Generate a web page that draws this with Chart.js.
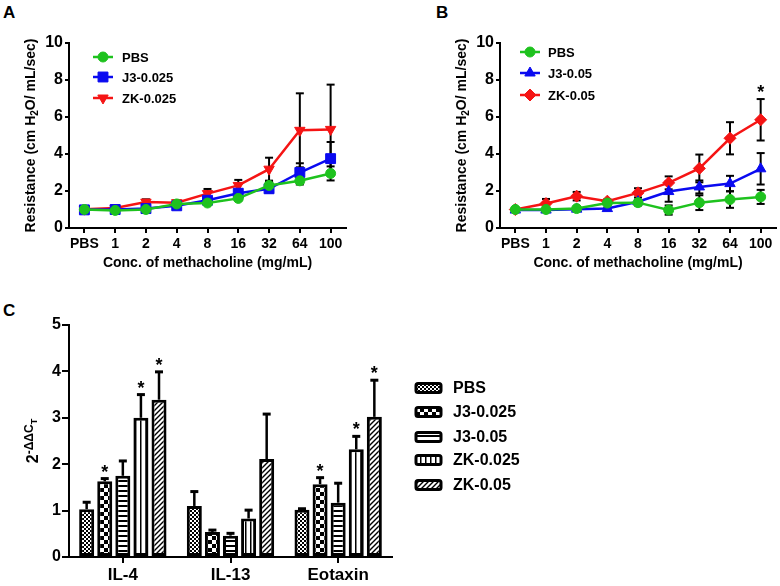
<!DOCTYPE html>
<html><head><meta charset="utf-8">
<script src="https://cdn.jsdelivr.net/npm/chart.js@4.4.1/dist/chart.umd.min.js"></script>
<style>
html,body{margin:0;padding:0;background:#fff;}
body{width:780px;height:586px;overflow:hidden;position:relative;}
canvas{position:absolute;}
.pl{position:absolute;font:bold 17px "Liberation Sans",Arial,sans-serif;line-height:17px;color:#000;}
</style></head><body>
<div class="pl" style="left:3px;top:4px">A</div>
<div class="pl" style="left:436px;top:4px">B</div>
<div class="pl" style="left:3px;top:302px">C</div>
<canvas id="cA" width="390" height="300" style="left:0;top:0"></canvas>
<canvas id="cB" width="410" height="300" style="left:390px;top:0"></canvas>
<canvas id="cC" width="780" height="286" style="left:0;top:300px"></canvas>
<script>
// ---------------- DATA ----------------
const doses = ['PBS','1','2','4','8','16','32','64','100'];

// Panel A (mean, SEM)
const aPBS     = [1.00, 0.95, 1.00, 1.30, 1.35, 1.60, 2.30, 2.55, 2.95];
const aPBSerr  = [0.05, 0.05, 0.05, 0.08, 0.10, 0.10, 0.20, 0.20, 0.38];
const aJ3      = [0.98, 1.00, 1.05, 1.20, 1.50, 1.88, 2.12, 3.00, 3.75];
const aJ3err   = [0.05, 0.05, 0.08, 0.10, 0.15, 0.20, 0.20, 0.50, 0.90];
const aZK      = [1.02, 1.08, 1.40, 1.37, 1.86, 2.30, 3.18, 5.28, 5.33];
const aZKerr   = [0.05, 0.06, 0.15, 0.12, 0.25, 0.30, 0.62, 2.00, 2.42];

// Panel B (mean, SEM)
const bPBS     = [1.00, 1.00, 1.05, 1.35, 1.37, 0.97, 1.37, 1.54, 1.68];
const bPBSerr  = [0.05, 0.05, 0.05, 0.08, 0.15, 0.25, 0.40, 0.45, 0.38];
const bJ3      = [0.97, 0.97, 1.02, 1.05, 1.42, 1.97, 2.22, 2.40, 3.20];
const bJ3err   = [0.05, 0.05, 0.05, 0.05, 0.10, 0.55, 0.35, 0.42, 0.85];
const bZK      = [1.00, 1.32, 1.72, 1.45, 1.90, 2.44, 3.22, 4.85, 5.85];
const bZKerr   = [0.05, 0.25, 0.23, 0.10, 0.25, 0.35, 0.75, 0.87, 1.12];
const bZKstars = [0, 0, 0, 0, 0, 0, 0, 0, 1];

// Panel C (mean, SEM)
const genes     = ['IL-4', 'IL-13', 'Eotaxin'];
const cPBS      = [1.03, 1.10, 1.02];
const cPBSerr   = [0.15, 0.31, 0.02];
const cJ3lo     = [1.63, 0.54, 1.57];
const cJ3loErr  = [0.06, 0.04, 0.14];
const cJ3hi     = [1.75, 0.46, 1.17];
const cJ3hiErr  = [0.32, 0.05, 0.42];
const cZKlo     = [3.00, 0.83, 2.32];
const cZKloErr  = [0.50, 0.18, 0.28];
const cZKhi     = [3.39, 2.11, 3.02];
const cZKhiErr  = [0.60, 0.97, 0.79];
const cJ3loStars = [1, 0, 1];
const cZKloStars = [1, 0, 1];
const cZKhiStars = [1, 0, 1];

// ---------------- STYLE ----------------
const FONT = '"Liberation Sans", Arial, Helvetica, sans-serif';
const GREEN = '#1ec21e', BLUE = '#0a0af0', RED = '#f51414';
Chart.defaults.font.family = FONT;
Chart.defaults.font.weight = 'bold';
Chart.defaults.color = '#000';
Chart.defaults.animation = false;

function drawMarker(ctx, style, r, rot, x, y) {
  if (Chart.helpers && Chart.helpers.drawPoint) {
    Chart.helpers.drawPoint(ctx, {pointStyle: style, radius: r, rotation: rot, borderWidth: 1}, x, y);
  } else {
    ctx.beginPath(); ctx.arc(x, y, r, 0, Math.PI * 2); ctx.fill(); ctx.stroke();
  }
}

// error bars + stars
function makeErrorPlugin(o) {
  function drawErr(chart) {
    const ctx = chart.ctx, ys = chart.scales.y;
    ctx.save();
    ctx.strokeStyle = '#000';
    ctx.lineWidth = o.lw;
    ctx.lineCap = 'butt';
    chart.data.datasets.forEach((ds, i) => {
      const errs = o.errors[i]; if (!errs) return;
      const meta = chart.getDatasetMeta(i);
      meta.data.forEach((el, j) => {
        const v = ds.data[j], e = errs[j];
        const x = el.x;
        const top = ys.getPixelForValue(v + e);
        const bot = o.both ? ys.getPixelForValue(v - e) : ys.getPixelForValue(v);
        ctx.beginPath(); ctx.moveTo(x, bot); ctx.lineTo(x, top); ctx.stroke();
        ctx.lineWidth = o.capLw;
        ctx.beginPath(); ctx.moveTo(x - o.cap, top); ctx.lineTo(x + o.cap, top); ctx.stroke();
        if (o.both) { ctx.beginPath(); ctx.moveTo(x - o.cap, bot); ctx.lineTo(x + o.cap, bot); ctx.stroke(); }
        ctx.lineWidth = o.lw;
      });
    });
    ctx.restore();
  }
  function drawStars(chart) {
    const ctx = chart.ctx, ys = chart.scales.y;
    ctx.save();
    ctx.fillStyle = '#000';
    ctx.font = 'bold 18px ' + FONT;
    ctx.textAlign = 'center'; ctx.textBaseline = 'alphabetic';
    chart.data.datasets.forEach((ds, i) => {
      const st = o.stars[i]; if (!st) return;
      const meta = chart.getDatasetMeta(i);
      meta.data.forEach((el, j) => {
        if (!st[j]) return;
        const top = ys.getPixelForValue(ds.data[j] + o.errors[i][j]);
        ctx.fillText('*', el.x, top - 1);
      });
    });
    ctx.restore();
  }
  return {
    id: 'errBars',
    beforeDatasetsDraw(chart) { if (o.behind) drawErr(chart); },
    afterDatasetsDraw(chart) { if (!o.behind) drawErr(chart); drawStars(chart); }
  };
}

// rotated y title with sub/superscripts
function makeRichTitle(segments, dist) {
  return {
    id: 'richTitle',
    afterDraw(chart) {
      const ctx = chart.ctx, ca = chart.chartArea;
      ctx.save();
      ctx.fillStyle = '#000';
      const widths = segments.map(s => { ctx.font = 'bold ' + s.size + 'px ' + FONT; return ctx.measureText(s.t).width; });
      const total = widths.reduce((a, b) => a + b, 0);
      ctx.translate(ca.left - dist, (ca.top + ca.bottom) / 2);
      ctx.rotate(-Math.PI / 2);
      ctx.textAlign = 'left'; ctx.textBaseline = 'alphabetic';
      let cx = -total / 2;
      segments.forEach((s, k) => { ctx.font = 'bold ' + s.size + 'px ' + FONT; ctx.fillText(s.t, cx, s.dy); cx += widths[k]; });
      ctx.restore();
    }
  };
}

// legend for line charts (line + marker inside plot area)
function makeLineLegend(cfg) {
  return {
    id: 'lineLegend',
    afterDraw(chart) {
      const ctx = chart.ctx, ca = chart.chartArea;
      ctx.save();
      chart.data.datasets.forEach((ds, i) => {
        const y = ca.top + cfg.rows[i];
        const x0 = ca.left + cfg.x0, x1 = ca.left + cfg.x1;
        ctx.strokeStyle = ds.borderColor; ctx.fillStyle = ds.borderColor; ctx.lineWidth = 2.5;
        ctx.beginPath(); ctx.moveTo(x0, y); ctx.lineTo(x1, y); ctx.stroke();
        ctx.lineWidth = 1;
        drawMarker(ctx, ds.pointStyle, ds.pointRadius, ds.pointRotation || 0, (x0 + x1) / 2, y);
        ctx.fillStyle = '#000';
        ctx.font = 'bold 13px ' + FONT;
        ctx.textAlign = 'left'; ctx.textBaseline = 'middle';
        ctx.fillText(ds.label, ca.left + cfg.tx, y + 1);
      });
      ctx.restore();
    }
  };
}

function lineDataset(label, data, color, style, r, rot) {
  return {
    label, data, borderColor: color, backgroundColor: color,
    pointBackgroundColor: color, pointBorderColor: color, pointBorderWidth: 1,
    pointStyle: style, pointRadius: r, pointRotation: rot || 0,
    borderWidth: 2.5, tension: 0, clip: false
  };
}

function lineChart(id, datasets, errs, stars, area, legendCfg) {
  return new Chart(document.getElementById(id), {
    type: 'line',
    data: { labels: doses, datasets },
    options: {
      responsive: false, animation: false, events: [],
      layout: { padding: { left: 0, top: area.top, right: area.padRight, bottom: 0 } },
      plugins: { legend: { display: false }, tooltip: { enabled: false } },
      scales: {
        x: {
          type: 'category', offset: true,
          grid: { display: true, drawOnChartArea: false, drawTicks: true, tickLength: 5, color: '#000', lineWidth: 2, offset: false },
          border: { display: true, color: '#000', width: 2 },
          ticks: { font: { size: 14, weight: 'bold' }, padding: 3, maxRotation: 0, autoSkip: false },
          title: { display: true, text: 'Conc. of methacholine (mg/mL)', font: { size: 14, weight: 'bold' }, padding: { top: 0, bottom: 28 } },
          afterFit(s) { s.height = area.xH; }
        },
        y: {
          min: 0, max: 10,
          ticks: { stepSize: 2, font: { size: 16, weight: 'bold' }, padding: 2 },
          grid: { display: true, drawOnChartArea: false, drawTicks: true, tickLength: 4, color: '#000', lineWidth: 2 },
          border: { display: true, color: '#000', width: 2 },
          afterFit(s) { s.width = area.yW; }
        }
      }
    },
    plugins: [
      makeErrorPlugin({ errors: errs, stars: stars, both: true, behind: true, lw: 2, capLw: 2, cap: 4 }),
      makeRichTitle([{ t: 'Resistance (cm H', size: 14, dy: 0 }, { t: '2', size: 10, dy: 3 }, { t: 'O/ mL/sec)', size: 14, dy: 0 }], 34),
      makeLineLegend(legendCfg)
    ]
  });
}

// Panel A
lineChart('cA',
  [lineDataset('PBS', aPBS, GREEN, 'circle', 5),
   lineDataset('J3-0.025', aJ3, BLUE, 'rect', 7),
   lineDataset('ZK-0.025', aZK, RED, 'triangle', 6, 180)],
  [aPBSerr, aJ3err, aZKerr], [null, null, null],
  { top: 43, padRight: 44, yW: 69, xH: 72 },
  { x0: 24, x1: 44, tx: 53, rows: [14, 34, 55] });

// Panel B
lineChart('cB',
  [lineDataset('PBS', bPBS, GREEN, 'circle', 5),
   lineDataset('J3-0.05', bJ3, BLUE, 'triangle', 6),
   lineDataset('ZK-0.05', bZK, RED, 'rectRot', 6)],
  [bPBSerr, bJ3err, bZKerr], [null, null, bZKstars],
  { top: 43, padRight: 24, yW: 110, xH: 72 },
  { x0: 20, x1: 40, tx: 48, rows: [9, 30, 52] });

// ---------------- Panel C patterns ----------------
function makePattern(kind) {
  const c = document.createElement('canvas');
  let g;
  if (kind === 'fine') {
    c.width = c.height = 4; g = c.getContext('2d');
    g.fillStyle = '#fff'; g.fillRect(0, 0, 4, 4);
    g.fillStyle = '#000'; g.fillRect(0, 0, 2, 2); g.fillRect(2, 2, 2, 2);
  } else if (kind === 'check') {
    c.width = c.height = 8; g = c.getContext('2d');
    g.fillStyle = '#fff'; g.fillRect(0, 0, 8, 8);
    g.fillStyle = '#000'; g.fillRect(0, 0, 4, 4); g.fillRect(4, 4, 4, 4);
  } else if (kind === 'hstripe') {
    c.width = 4; c.height = 5; g = c.getContext('2d');
    g.fillStyle = '#fff'; g.fillRect(0, 0, 4, 5);
    g.fillStyle = '#000'; g.fillRect(0, 0, 4, 2);
  } else if (kind === 'vstripe') {
    c.width = 5; c.height = 4; g = c.getContext('2d');
    g.fillStyle = '#fff'; g.fillRect(0, 0, 5, 4);
    g.fillStyle = '#000'; g.fillRect(0, 0, 1.5, 4);
  } else {
    c.width = c.height = 5; g = c.getContext('2d');
    g.fillStyle = '#fff'; g.fillRect(0, 0, 5, 5);
    g.strokeStyle = '#000'; g.lineWidth = 1.4;
    g.beginPath();
    g.moveTo(-1, 6); g.lineTo(6, -1);
    g.moveTo(-1, 1); g.lineTo(1, -1);
    g.moveTo(4, 6); g.lineTo(6, 4);
    g.stroke();
  }
  return g.createPattern(c, 'repeat');
}
const PAT = { fine: makePattern('fine'), check: makePattern('check'), h: makePattern('hstripe'), v: makePattern('vstripe'), d: makePattern('diag') };

function barDataset(label, data, pat) {
  return { label, data, backgroundColor: pat, borderColor: '#000', borderWidth: 3, borderSkipped: false,
           categoryPercentage: 0.84, barPercentage: 0.83 };
}

const barLegend = {
  id: 'barLegend',
  afterDraw(chart) {
    const ctx = chart.ctx, ca = chart.chartArea;
    ctx.save();
    const rows = [88, 112, 137, 160, 185];
    chart.data.datasets.forEach((ds, i) => {
      const y = rows[i];
      const x = ca.right + 24, w = 25, h = 9;
      ctx.fillStyle = ds.backgroundColor;
      ctx.fillRect(x, y - h / 2, w, h);
      ctx.strokeStyle = '#000'; ctx.lineWidth = 3;
      ctx.beginPath();
      if (ctx.roundRect) ctx.roundRect(x, y - h / 2, w, h, 2); else ctx.rect(x, y - h / 2, w, h);
      ctx.stroke();
      ctx.fillStyle = '#000';
      ctx.font = 'bold 16px ' + FONT;
      ctx.textAlign = 'left'; ctx.textBaseline = 'middle';
      ctx.fillText(ds.label, ca.right + 61, y + 1);
    });
    ctx.restore();
  }
};

new Chart(document.getElementById('cC'), {
  type: 'bar',
  data: {
    labels: genes,
    datasets: [
      barDataset('PBS', cPBS, PAT.fine),
      barDataset('J3-0.025', cJ3lo, PAT.check),
      barDataset('J3-0.05', cJ3hi, PAT.h),
      barDataset('ZK-0.025', cZKlo, PAT.v),
      barDataset('ZK-0.05', cZKhi, PAT.d)
    ]
  },
  options: {
    responsive: false, animation: false, events: [],
    layout: { padding: { left: 0, top: 25, right: 388, bottom: 0 } },
    plugins: { legend: { display: false }, tooltip: { enabled: false } },
    scales: {
      x: {
        type: 'category', offset: true,
        grid: { display: true, drawOnChartArea: false, drawTicks: true, tickLength: 6, color: '#000', lineWidth: 2, offset: false },
        border: { display: true, color: '#000', width: 2 },
        ticks: { font: { size: 17, weight: 'bold' }, padding: 2, maxRotation: 0, autoSkip: false },
        afterFit(s) { s.height = 29; }
      },
      y: {
        min: 0, max: 5,
        ticks: { stepSize: 1, font: { size: 16, weight: 'bold' }, padding: 1 },
        grid: { display: true, drawOnChartArea: false, drawTicks: true, tickLength: 7, color: '#000', lineWidth: 2 },
        border: { display: true, color: '#000', width: 2 },
        afterFit(s) { s.width = 69; }
      }
    }
  },
  plugins: [
    makeErrorPlugin({ errors: [cPBSerr, cJ3loErr, cJ3hiErr, cZKloErr, cZKhiErr], stars: [null, cJ3loStars, null, cZKloStars, cZKhiStars], both: false, behind: false, lw: 2.5, capLw: 3, cap: 4 }),
    makeRichTitle([{ t: '2', size: 16, dy: 0 }, { t: '-ΔΔC', size: 12, dy: -5 }, { t: 'T', size: 9, dy: -1.5 }], 31),
    barLegend
  ]
});
</script>
</body></html>
